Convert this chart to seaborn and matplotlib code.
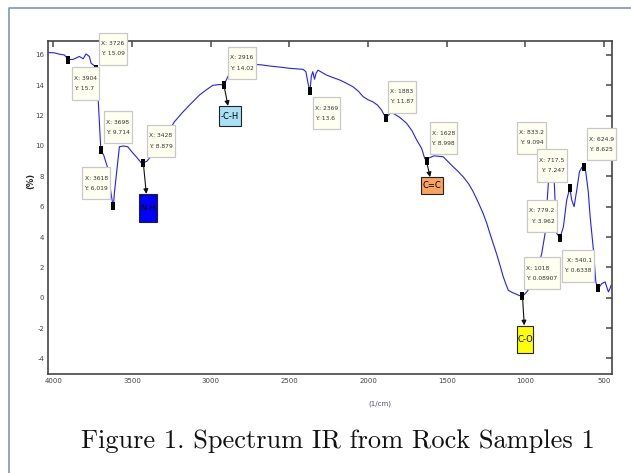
import numpy as np
import pandas as pd
import matplotlib
matplotlib.use("Agg")
import matplotlib.pyplot as plt
from matplotlib.lines import Line2D
from matplotlib.path import Path
import seaborn as sns

# IR spectrum
wavenumber = [4030, 4000, 3960, 3930, 3904, 3877, 3855, 3835, 3810, 3792, 3771, 3760,
              3740, 3726, 3712, 3698, 3680, 3656, 3635, 3626, 3618, 3612, 3595, 3580,
              3555, 3527, 3500, 3474, 3442, 3428, 3405, 3389, 3340, 3290, 3230, 3180,
              3134, 3071, 3028, 2986, 2943, 2916, 2880, 2840, 2800, 2742, 2680, 2625,
              2560, 2498, 2413, 2395, 2381, 2369, 2360, 2351, 2340, 2330, 2318, 2265,
              2220, 2180, 2140, 2095, 2060, 2031, 2000, 1968, 1940, 1914, 1895, 1883,
              1860, 1840, 1800, 1755, 1720, 1691, 1659, 1640, 1628, 1615, 1580, 1522,
              1490, 1459, 1430, 1395, 1360, 1331, 1300, 1268, 1245, 1225, 1205, 1183,
              1160, 1140, 1120, 1108, 1085, 1066, 1040, 1018, 991, 960, 930, 896,
              875, 860, 854, 840, 833.2, 820, 811, 800, 779.2, 758, 737, 717.5,
              705, 690, 673, 656, 640, 624.9, 616, 600, 588, 567, 552, 540.1,
              530, 514, 493, 482, 472, 462, 455]
transmittance = [16.15, 16.15, 16.05, 16.0, 15.7, 15.7, 15.8, 15.9, 15.75, 16.07, 15.9, 15.45,
                 15.3, 15.09, 12.5, 9.714, 9.4, 8.6, 7.0, 6.4, 6.019, 6.9, 8.5, 9.95,
                 10.0, 9.95, 9.6, 9.3, 8.9, 8.879, 9.0, 9.2, 9.8, 10.6, 11.6, 12.2,
                 12.7, 13.36, 13.7, 14.0, 14.05, 14.02, 14.8, 15.3, 15.38, 15.39, 15.35, 15.27,
                 15.2, 15.12, 15.05, 14.9, 14.13, 13.6, 14.6, 14.9, 14.4, 14.8, 15.0, 14.68,
                 14.5, 14.35, 14.15, 13.9, 13.6, 13.25, 13.05, 12.9, 12.7, 12.37, 12.0, 11.87,
                 12.15, 12.15, 11.9, 11.5, 11.0, 10.4, 9.84, 9.2, 8.998, 9.2, 9.35, 9.29,
                 8.95, 8.63, 8.35, 7.97, 7.5, 6.98, 6.3, 5.55, 4.9, 4.23, 3.6, 2.9,
                 2.1, 1.37, 0.8, 0.49, 0.35, 0.27, 0.15, 0.08907, 0.38, 0.8, 1.6, 2.9,
                 4.2, 6.5, 7.5, 8.8, 9.094, 8.6, 6.4, 4.23, 3.962, 4.67, 6.43, 7.247,
                 6.43, 6.0, 7.1, 8.3, 8.6, 8.625, 8.3, 7.0, 5.33, 3.13, 1.04, 0.6338,
                 0.7, 0.93, 1.04, 0.7, 0.38, 0.6, 0.82]

# data cursors
mark_x = [3904, 3726, 3698, 3618, 3428, 2916, 2369, 1883, 1628, 833.2, 779.2, 717.5, 624.9, 540.1, 1018]
mark_y = [15.7, 15.09, 9.714, 6.019, 8.879, 14.02, 13.6, 11.87, 8.998, 9.094, 3.962, 7.247, 8.625, 0.6338, 0.08907]

# functional groups and the cursor they point from
group_names = ["N-H", "-C-H", "C=C", "C-O"]
group_x = [3428, 2916, 1628, 1018]
group_y = [8.879, 14.02, 8.998, 0.08907]
group_colors = ["#0000ff", "#a8e0f6", "#f6a460", "#ffff00"]

xticks = [4000, 3500, 3000, 2500, 2000, 1500, 1000, 500]
yticks = [-4, -2, 0, 2, 4, 6, 8, 10, 12, 14, 16]

sns.set_style("white")

fig = plt.figure(figsize=(6.31, 4.73), dpi=100)
ax = fig.add_axes([48.3 / 631, 1 - 374 / 473, (611.7 - 48.3) / 631, (374 - 41) / 473])

df = pd.DataFrame({"wavenumber": wavenumber, "T": transmittance})
sns.lineplot(data=df, x="wavenumber", y="T", sort=False, estimator=None,
             color="#2020ff", linewidth=0.8, ax=ax, zorder=2)

rect = [(-0.6, -1), (0.6, -1), (0.6, 1), (-0.6, 1), (-0.6, -1)]
sns.scatterplot(x=mark_x, y=mark_y, marker=rect, s=30, color="black",
                edgecolor="black", linewidth=0, ax=ax, zorder=3)

ax.set_xlim(4032, 451)
ax.set_ylim(-5.03, 16.92)
ax.set_xticks(xticks)
ax.set_yticks(yticks)
ax.set_xticklabels([str(t) for t in xticks])
ax.set_yticklabels([str(t) for t in yticks])
ax.set_xlabel("")
ax.set_ylabel("")
ax.tick_params(direction="in", length=4, width=1.2, color="#555555",
               top=True, right=True, labelsize=5, labelcolor="#444444", pad=3)
for sp in ax.spines.values():
    sp.set_color("#444444")
    sp.set_linewidth(1.2)


def padded_box(padx, pady):
    # box with separate horizontal / vertical padding (pixels)
    def box(x0, y0, width, height, mutation_size):
        verts = [(x0 - padx, y0 - pady), (x0 + width + padx, y0 - pady),
                 (x0 + width + padx, y0 + height + pady), (x0 - padx, y0 + height + pady),
                 (x0 - padx, y0 - pady)]
        return Path(verts, closed=True)
    return box


# cursor boxes: (ha, dx, dy) offsets in pixels from the marker
cursor_layout = [("left", 6, -24), ("left", 5, 20), ("left", 5.5, 23), ("right", -5.5, 23),
                 ("left", 5.5, 22), ("left", 6, 22), ("left", 5, -22), ("left", 4, 21),
                 ("left", 5, 23), ("right", -7.5, 22), ("right", -5.5, 21.6),
                 ("right", -5, 22.3), ("left", 4.5, 22.7), ("right", -6, 22.3),
                 ("left", 4, 23)]
for x, y, (ha, dx, dy) in zip(mark_x, mark_y, cursor_layout):
    ax.annotate(f"X: {x:g}\nY: {y:g}", xy=(x, y), xytext=(dx, dy),
                textcoords="offset pixels", ha=ha, va="center",
                fontsize=4.3, color="#333333", linespacing=2.3, zorder=5,
                bbox=dict(boxstyle=padded_box(2.0, 8.5), fc="#fffff0", ec="#c8c8c8", lw=0.9))

group_layout = [(4.4, -45.3, 1.0, 9.5), (6.2, -31.3, 1.5, 5.5), (5.6, -24.8, 1.7, 4.0), (2.6, -42.9, 0.5, 9.0)]
for name, x, y, c, (dx, dy, px, py) in zip(group_names, group_x, group_y, group_colors, group_layout):
    ax.annotate(name, xy=(x, y), xytext=(dx, dy), textcoords="offset pixels",
                ha="center", va="center", fontsize=6, color="black", zorder=6,
                bbox=dict(boxstyle=padded_box(px, py), fc=c, ec="#222222", lw=0.8),
                arrowprops=dict(arrowstyle="<|-", color="#111111", lw=0.8,
                                shrinkA=0, shrinkB=2, mutation_scale=7))

fig.text(31 / 631, 1 - 181 / 473, "(%)", rotation=90, ha="center", va="center",
         fontsize=6, fontweight="bold", color="#222222")
fig.text(380 / 631, 1 - 404 / 473, "(1/cm)", ha="center", va="center",
         fontsize=5, color="#5a4a7a")
fig.text(338 / 631, 1 - 441 / 473, "Figure 1. Spectrum IR from Rock Samples 1",
         ha="center", va="center", fontsize=19, family="cmr10", color="#111111")

# outer frame of the figure panel
fig.add_artist(Line2D([9 / 631, 9 / 631, 1.0], [0.0, 1 - 7.7 / 473, 1 - 7.7 / 473],
                      transform=fig.transFigure, color="#8097b8", lw=1.2))

fig.savefig("out.png", dpi=100)
